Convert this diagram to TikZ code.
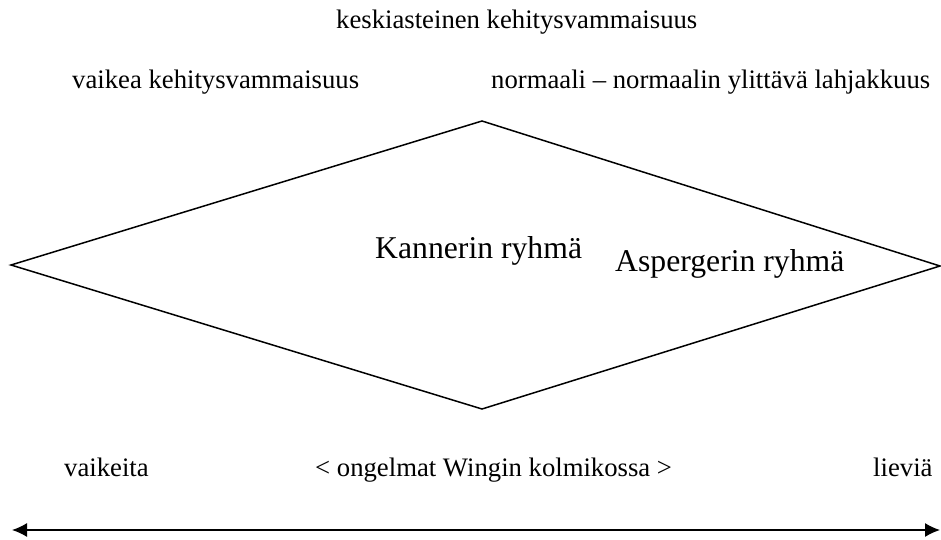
\documentclass[tikz,border=0pt]{standalone}
\usepackage{fontspec}
\setmainfont{Liberation Serif}
\usetikzlibrary{arrows.meta}
\tikzset{
  smalltext/.style={inner sep=0pt,anchor=base west,font=\fontsize{26.7}{32}\selectfont},
  bigtext/.style={inner sep=0pt,anchor=base west,font=\fontsize{31.7}{38}\selectfont}
}
\begin{document}
\begin{tikzpicture}[x=1pt,y=-1pt]
            \useasboundingbox (0,0) rectangle (941,540);
            % top labels
            \node[smalltext] (moderate) at (336,29) {keskiasteinen kehitysvammaisuus};
            \node[smalltext] (severe) at (72,89) {vaikea kehitysvammaisuus};
            \node[smalltext] (normal) at (491,89) {normaali -- normaalin ylittävä lahjakkuus};
            
            % diamond
            \coordinate (west) at (11,265);
            \coordinate (north) at (482,121);
            \coordinate (east) at (940,266);
            \coordinate (south) at (482,409);
            \draw[line width=1.5pt] (west) -- (north) -- (east) -- (south) -- cycle;
            \node[bigtext] (kanner) at (375,258) {Kannerin ryhmä};
            \node[bigtext] (asperger) at (615,271) {Aspergerin ryhmä};
            
            % bottom scale
            \node[smalltext] (hard) at (64,476) {vaikeita};
            \node[smalltext] (wing) at (315,476) {< ongelmat Wingin kolmikossa >};
            \node[smalltext] (mild) at (873,476) {lieviä};
            \coordinate (leftend) at (12,530);
            \coordinate (rightend) at (940,530);
            \draw[line width=1.4pt,{Latex[length=15pt,width=14pt]}-{Latex[length=15pt,width=14pt]}] (leftend) -- (rightend);
        \end{tikzpicture}
\end{document}
